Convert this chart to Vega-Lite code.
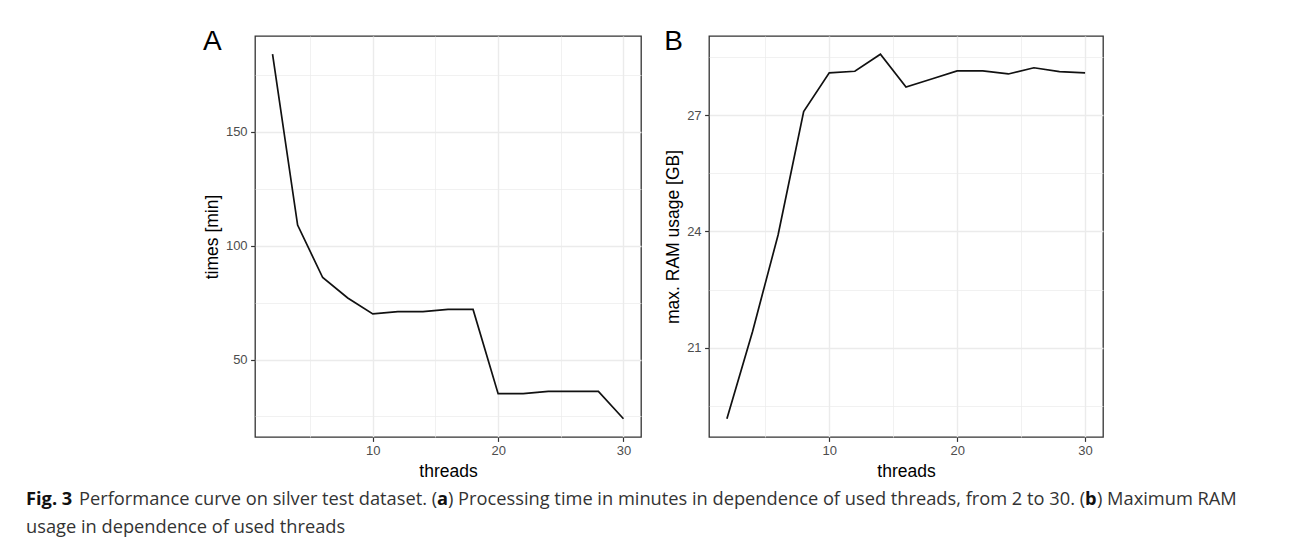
{
  "$schema": "https://vega.github.io/schema/vega-lite/v6.json",
  "background": "white",
  "padding": {"left": 26, "top": 27, "right": 0, "bottom": 0},
  "autosize": {"type": "pad"},
  "datasets": {
    "perf": [
      {"threads": 2, "minutes": 184, "ram": 19.16},
      {"threads": 4, "minutes": 109, "ram": 21.41},
      {"threads": 6, "minutes": 86, "ram": 23.91},
      {"threads": 8, "minutes": 77, "ram": 27.1},
      {"threads": 10, "minutes": 70, "ram": 28.1},
      {"threads": 12, "minutes": 71, "ram": 28.14},
      {"threads": 14, "minutes": 71, "ram": 28.58},
      {"threads": 16, "minutes": 72, "ram": 27.73},
      {"threads": 18, "minutes": 72, "ram": 27.94},
      {"threads": 20, "minutes": 35, "ram": 28.15},
      {"threads": 22, "minutes": 35, "ram": 28.15},
      {"threads": 24, "minutes": 36, "ram": 28.07},
      {"threads": 26, "minutes": 36, "ram": 28.23},
      {"threads": 28, "minutes": 36, "ram": 28.13},
      {"threads": 30, "minutes": 24, "ram": 28.1}
    ],
    "caption": [
      {"part": "fig", "line": 1, "text": "Fig. 3"},
      {"part": "p1", "line": 1, "text": "Performance curve on silver test dataset. ("},
      {"part": "a", "line": 1, "text": "a"},
      {"part": "p2", "line": 1, "text": ") Processing time in minutes in dependence of used threads, from 2 to 30. ("},
      {"part": "b", "line": 1, "text": "b"},
      {"part": "p3", "line": 1, "text": ") Maximum RAM"},
      {"part": "p4", "line": 2, "text": "usage in dependence of used threads"}
    ]
  },
  "bounds": "flush",
  "columns": 2,
  "spacing": {"row": 49, "column": 68},
  "concat": [
    {
      "width": 386,
      "height": 401,
      "title": {"text": "A", "anchor": "start", "frame": "bounds", "fontSize": 28, "font": "Liberation Sans", "fontWeight": "normal", "color": "#000000", "offset": -20},
      "data": {"name": "perf"},
      "mark": {"type": "line", "color": "#111111", "strokeWidth": 1.7},
      "encoding": {
        "x": {
          "field": "threads", "type": "quantitative",
          "scale": {"domain": [0.6, 31.4], "nice": false, "zero": false},
          "axis": {
            "title": "threads",
            "values": [5, 10, 15, 20, 25, 30],
            "labelExpr": "datum.value % 10 === 0 ? datum.label : ''",
            "gridWidth": {"condition": {"test": "datum.value % 10 === 0", "value": 1.4}, "value": 0.7},
            "tickOpacity": {"condition": {"test": "datum.value % 10 === 0", "value": 1}, "value": 0}
          }
        },
        "y": {
          "field": "minutes", "type": "quantitative",
          "scale": {"domain": [16, 192], "nice": false, "zero": false},
          "axis": {
            "title": "times [min]",
            "values": [25, 50, 75, 100, 125, 150, 175],
            "labelExpr": "datum.value % 50 === 0 ? datum.label : ''",
            "gridWidth": {"condition": {"test": "datum.value % 50 === 0", "value": 1.4}, "value": 0.7},
            "tickOpacity": {"condition": {"test": "datum.value % 50 === 0", "value": 1}, "value": 0}
          }
        }
      }
    },
    {
      "width": 394,
      "height": 401,
      "title": {"text": "B", "anchor": "start", "frame": "bounds", "fontSize": 28, "font": "Liberation Sans", "fontWeight": "normal", "color": "#000000", "offset": -20},
      "data": {"name": "perf"},
      "mark": {"type": "line", "color": "#111111", "strokeWidth": 1.7},
      "encoding": {
        "x": {
          "field": "threads", "type": "quantitative",
          "scale": {"domain": [0.6, 31.4], "nice": false, "zero": false},
          "axis": {
            "title": "threads",
            "values": [5, 10, 15, 20, 25, 30],
            "labelExpr": "datum.value % 10 === 0 ? datum.label : ''",
            "gridWidth": {"condition": {"test": "datum.value % 10 === 0", "value": 1.4}, "value": 0.7},
            "tickOpacity": {"condition": {"test": "datum.value % 10 === 0", "value": 1}, "value": 0}
          }
        },
        "y": {
          "field": "ram", "type": "quantitative",
          "scale": {"domain": [18.689, 29.051], "nice": false, "zero": false},
          "axis": {
            "title": "max. RAM usage [GB]",
            "values": [19.5, 21, 22.5, 24, 25.5, 27, 28.5],
            "labelExpr": "datum.value % 3 === 0 ? datum.label : ''",
            "gridWidth": {"condition": {"test": "datum.value % 3 === 0", "value": 1.4}, "value": 0.7},
            "tickOpacity": {"condition": {"test": "datum.value % 3 === 0", "value": 1}, "value": 0}
          }
        }
      }
    },
    {
      "width": 386,
      "height": 56,
      "view": {"stroke": null},
      "data": {"name": "caption"},
      "encoding": {
        "x": {"value": 0},
        "y": {"field": "line", "type": "ordinal", "axis": null, "scale": {"paddingInner": 0, "paddingOuter": 0}},
        "text": {"field": "text"}
      },
      "layer": [
        {"transform": [{"filter": "datum.part === 'fig'"}], "mark": {"type": "text", "align": "left", "baseline": "middle", "font": "Open Sans", "fontSize": 18.25, "fontWeight": "bold", "color": "#111111", "dx": -229}},
        {"transform": [{"filter": "datum.part === 'p1'"}], "mark": {"type": "text", "align": "left", "baseline": "middle", "font": "Open Sans", "fontSize": 18.25, "color": "#333333", "dx": -176}},
        {"transform": [{"filter": "datum.part === 'a'"}], "mark": {"type": "text", "align": "left", "baseline": "middle", "font": "Open Sans", "fontSize": 18.25, "fontWeight": "bold", "color": "#111111", "dx": 182}},
        {"transform": [{"filter": "datum.part === 'p2'"}], "mark": {"type": "text", "align": "left", "baseline": "middle", "font": "Open Sans", "fontSize": 18.25, "color": "#333333", "dx": 193}},
        {"transform": [{"filter": "datum.part === 'b'"}], "mark": {"type": "text", "align": "left", "baseline": "middle", "font": "Open Sans", "fontSize": 18.25, "fontWeight": "bold", "color": "#111111", "dx": 830}},
        {"transform": [{"filter": "datum.part === 'p3'"}], "mark": {"type": "text", "align": "left", "baseline": "middle", "font": "Open Sans", "fontSize": 18.25, "color": "#333333", "dx": 842}},
        {"transform": [{"filter": "datum.part === 'p4'"}], "mark": {"type": "text", "align": "left", "baseline": "middle", "font": "Open Sans", "fontSize": 18.25, "color": "#333333", "dx": -229}}
      ]
    }
  ],
  "config": {
    "font": "Liberation Sans",
    "view": {"stroke": "#333333", "strokeWidth": 1.3},
    "axis": {
      "domain": false,
      "tickColor": "#333333",
      "tickSize": 4.4,
      "tickWidth": 1.2,
      "labelFont": "Liberation Sans",
      "labelFontSize": 13,
      "labelColor": "#4D4D4D",
      "labelPadding": 3.5,
      "labelFlush": false,
      "labelOverlap": false,
      "titleFont": "Liberation Sans",
      "titleFontSize": 17.5,
      "titleFontWeight": "normal",
      "titleColor": "#000000",
      "titlePadding": 4.4,
      "gridColor": "#EBEBEB"
    }
  }
}
